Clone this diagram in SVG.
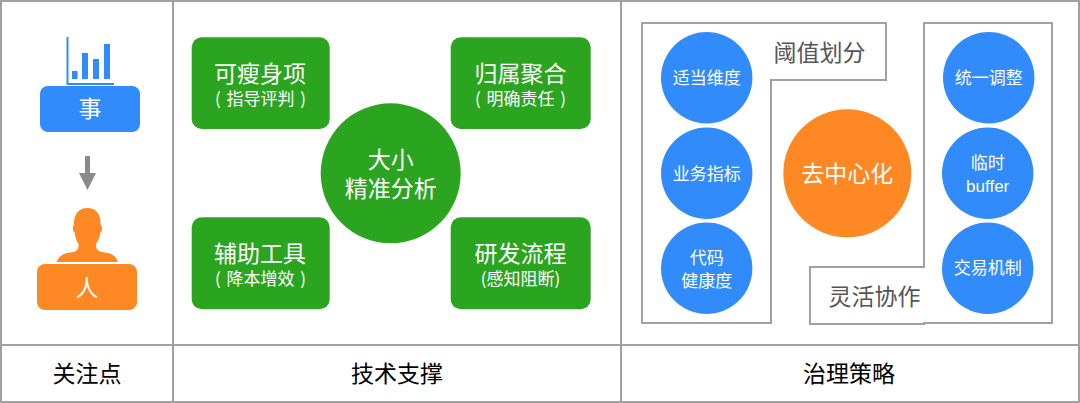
<svg xmlns="http://www.w3.org/2000/svg" width="1080" height="403" viewBox="0 0 1080 403">
<style>
text{font-family:"Noto Sans CJK SC","Noto Sans",sans-serif;text-anchor:middle}
.w{fill:#fff}
.t{font-size:23px}
.s{font-size:17px}
.p{word-spacing:2px}
.h{font-size:23px;fill:#000}
.g{font-size:23px;fill:#555}
.grid{fill:none;stroke:#a0a0a0;stroke-width:2}
.frame{fill:#fff;stroke:#a0a0a0;stroke-width:2}
.green{fill:#2ba520}
.blue{fill:#318bfa}
.orange{fill:#fe8824}
</style>
<rect width="1080" height="403" fill="#fff"/>
<g id="table" class="grid">
<rect x="1" y="1" width="1078" height="401"/>
<path d="M173 1V402M621 1V402M1 345H1079"/>
</g>
<g id="chart" class="blue">
<path d="M66.500 37H68.500V83H114V85H66.500Z"/>
<rect x="72" y="71" width="5.500" height="8"/>
<rect x="82" y="53" width="6" height="26"/>
<rect x="93" y="59" width="6" height="20"/>
<rect x="104" y="44" width="6" height="35"/>
</g>
<g id="shi"><rect class="blue" x="40" y="86" width="100" height="46" rx="8"/><text class="w t" x="90" y="117">事</text></g>
<g id="connectors"><path d="M85 156H90V173H96L87.500 190L79 173H85Z" fill="#8a8a8a"/></g>
<g id="person"><path class="orange" d="M56.500 262C59 256 64 253 70 252.500C77 252 79 249 78.500 244C76 240 75 236 74.500 232C72.500 232 72.500 226 74 225C73.500 214 79 208 87.500 208C96 208 101 214 100.500 225C102.500 226 102.500 232 100.500 232C100 236 98.500 240 96 244C95.500 249 98 252 105 252.500C111 253 116 256 118 262Z"/></g>
<g id="ren"><rect class="orange" x="37" y="264" width="100" height="46" rx="8"/><text class="w t" x="87" y="296">人</text></g>
<text class="h" x="87" y="382">关注点</text>
<text class="h" x="397" y="382">技术支撑</text>
<text class="h" x="849" y="382">治理策略</text>
<g id="kesou"><rect class="green" x="191.700" y="37.300" width="138" height="91.700" rx="10"/><text class="w t" x="260" y="81.500">可瘦身项</text><text class="w s p" x="260.500" y="104.500">( 指导评判 )</text></g>
<g id="guishu"><rect class="green" x="450.700" y="37.300" width="140" height="91.700" rx="10"/><text class="w t" x="520.500" y="81.500">归属聚合</text><text class="w s p" x="520.500" y="104.500">( 明确责任 )</text></g>
<g id="fuzhu"><rect class="green" x="191.700" y="217.300" width="138" height="92" rx="10"/><text class="w t" x="260" y="261.500">辅助工具</text><text class="w s p" x="260.500" y="285">( 降本增效 )</text></g>
<g id="yanfa"><rect class="green" x="450.700" y="217.300" width="140" height="92" rx="10"/><text class="w t" x="520.500" y="261.500">研发流程</text><text class="w s" x="520.500" y="285">(感知阻断)</text></g>
<g id="daxiao"><circle class="green" cx="390.700" cy="173.300" r="70"/><text class="w t" x="390.700" y="168">大小</text><text class="w t" x="390.700" y="197">精准分析</text></g>
<g id="yuzhi"><path class="frame" d="M642 23H886V80H771V323H642Z"/><text class="g" x="819.500" y="61">阈值划分</text></g>
<g id="linghuo"><path class="frame" d="M924 23H1052V323H924L924 324H810V267H924Z"/><text class="g" x="874.500" y="305">灵活协作</text></g>
<g id="c1"><circle class="blue" cx="706.700" cy="77.700" r="45.700"/><text class="w s" x="706.700" y="84">适当维度</text></g>
<g id="c2"><circle class="blue" cx="706.700" cy="173.300" r="45.700"/><text class="w s" x="706.700" y="179.500">业务指标</text></g>
<g id="c3"><circle class="blue" cx="706.700" cy="268.300" r="45.700"/><text class="w s" x="706.700" y="263.500">代码</text><text class="w s" x="706.700" y="286.500">健康度</text></g>
<g id="c4"><circle class="blue" cx="988.700" cy="77.700" r="45.700"/><text class="w s" x="988.700" y="84">统一调整</text></g>
<g id="c5"><circle class="blue" cx="987.700" cy="173.300" r="45.700"/><text class="w s" x="987.700" y="169">临时</text><text class="w s" x="987.700" y="191.500" style="font-family:'Liberation Sans',sans-serif">buffer</text></g>
<g id="c6"><circle class="blue" cx="987.700" cy="268.300" r="45.700"/><text class="w s" x="987.700" y="274">交易机制</text></g>
<g id="center"><circle class="orange" cx="847.300" cy="173.300" r="64"/><text class="w t" x="847.300" y="181.500">去中心化</text></g>
</svg>
